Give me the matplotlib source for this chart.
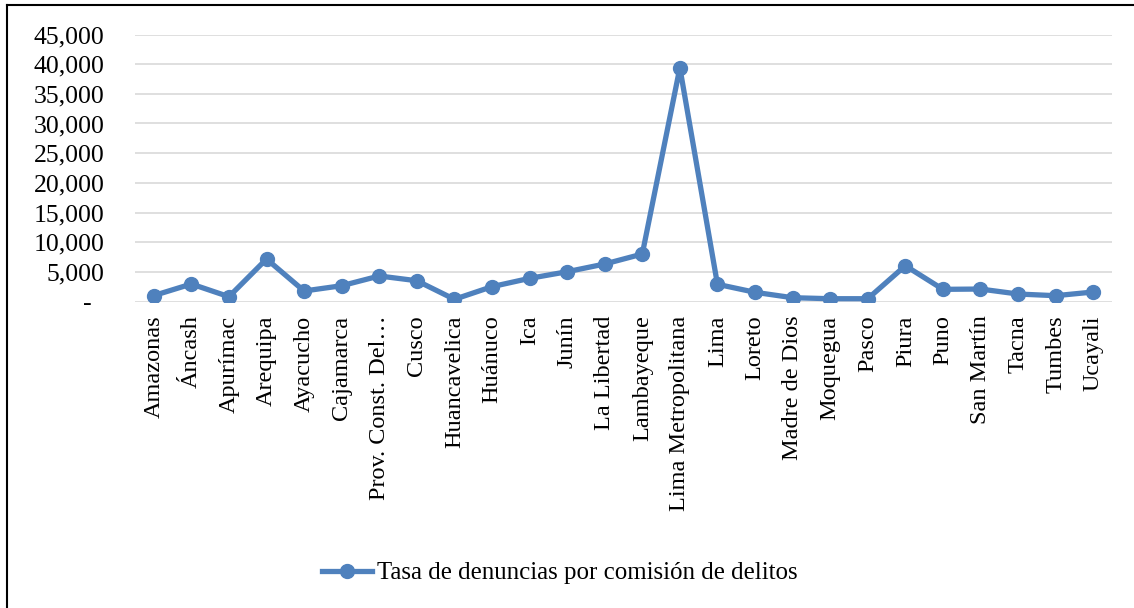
import matplotlib.pyplot as plt
from matplotlib.lines import Line2D
from matplotlib.ticker import FuncFormatter

# Datos por región
regiones = ["Amazonas", "Áncash", "Apurímac", "Arequipa", "Ayacucho", "Cajamarca",
            "Prov. Const. Del…", "Cusco", "Huancavelica", "Huánuco", "Ica", "Junín",
            "La Libertad", "Lambayeque", "Lima Metropolitana", "Lima", "Loreto",
            "Madre de Dios", "Moquegua", "Pasco", "Piura", "Puno", "San Martín",
            "Tacna", "Tumbes", "Ucayali"]
tasa = [1000, 2950, 810, 7160, 1770, 2660, 4300, 3500, 370, 2500, 3900, 5020,
        6320, 8000, 39400, 2900, 1550, 640, 470, 470, 6030, 2050, 2100, 1260, 980, 1600]
serie = "Tasa de denuncias por comisión de delitos"
y_ticks = list(range(0, 45001, 5000))

plt.rcParams['font.family'] = ['Liberation Serif', 'DejaVu Serif']
azul = '#4F81BD'
W, H = 1134, 608

fig = plt.figure(figsize=(W / 100, H / 100), dpi=100)
ax = fig.add_axes([135 / W, 1 - 301.5 / H, (1112 - 135) / W, (301.5 - 34.5) / H])

x = list(range(len(regiones)))
ax.plot(x, tasa, color=azul, lw=3.8, marker='o', ms=10, label=serie, zorder=3)

ax.set_xlim(-0.5, len(regiones) - 0.5)
ax.set_ylim(0, 45000)
ax.set_yticks(y_ticks)
ax.yaxis.set_major_formatter(FuncFormatter(lambda v, p: "-  " if v == 0 else f"{int(v):,}"))
ax.set_xticks(x)
ax.set_xticklabels(regiones, rotation=90, ha='center', va='top')
ax.tick_params(axis='both', length=0, colors='black')
ax.tick_params(axis='y', pad=22, labelsize=18.5)
ax.tick_params(axis='x', pad=10, labelsize=17.5)
ax.grid(axis='y', color='#D9D9D9', lw=1.2)
ax.set_axisbelow(True)
for s in ax.spines.values():
    s.set_visible(False)

fig.legend(loc='center', bbox_to_anchor=(560 / W, 1 - 573 / H), frameon=False,
           fontsize=17.9, handlelength=2.0, handletextpad=0.2)

# marco exterior (solo borde superior e izquierdo visibles)
fig.add_artist(Line2D([7 / W, 1], [1 - 5 / H, 1 - 5 / H], color='black', lw=1.5))
fig.add_artist(Line2D([7 / W, 7 / W], [0, 1 - 5 / H], color='black', lw=1.5))

fig.savefig('out.png', dpi=100)
